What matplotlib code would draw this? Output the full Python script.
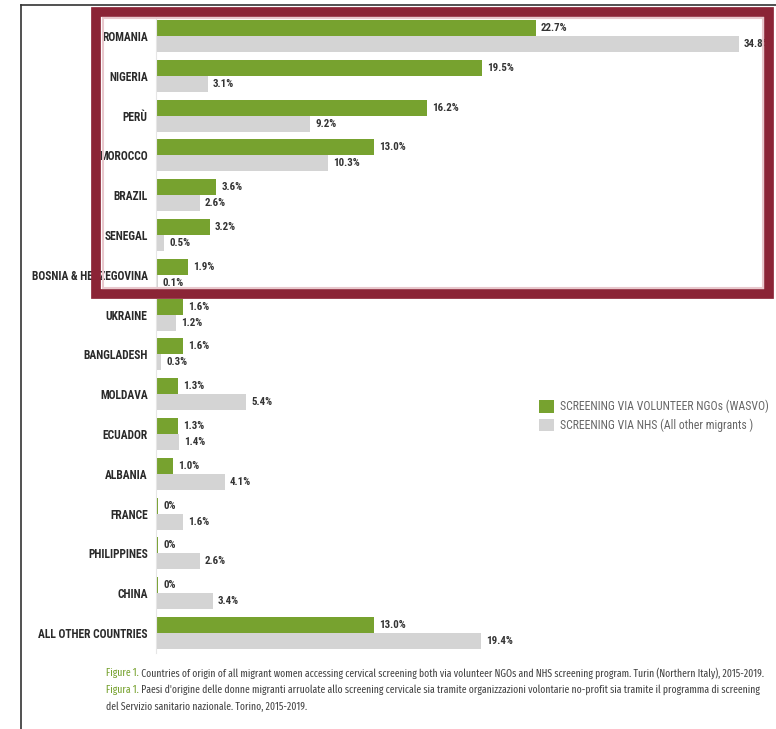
import matplotlib
matplotlib.use("Agg")
import matplotlib.pyplot as plt
from matplotlib.patches import Rectangle
from matplotlib.lines import Line2D
import numpy as np

plt.rcParams['font.family'] = ['Roboto Condensed', 'DejaVu Sans']

countries = ["ROMANIA", "NIGERIA", "PERÙ", "MOROCCO", "BRAZIL", "SENEGAL",
             "BOSNIA & HERZEGOVINA", "UKRAINE", "BANGLADESH", "MOLDAVA",
             "ECUADOR", "ALBANIA", "FRANCE", "PHILIPPINES", "CHINA",
             "ALL OTHER COUNTRIES"]
ngo = [22.7, 19.5, 16.2, 13.0, 3.6, 3.2, 1.9, 1.6, 1.6, 1.3, 1.3, 1.0, 0.0, 0.0, 0.0, 13.0]
nhs = [34.8, 3.1, 9.2, 10.3, 2.6, 0.5, 0.1, 1.2, 0.3, 5.4, 1.4, 4.1, 1.6, 2.6, 3.4, 19.4]
ngo_labels = ["22.7%", "19.5%", "16.2%", "13.0%", "3.6%", "3.2%", "1.9%", "1.6%", "1.6%",
              "1.3%", "1.3%", "1.0%", "0%", "0%", "0%", "13.0%"]
nhs_labels = ["34.8%", "3.1%", "9.2%", "10.3%", "2.6%", "0.5%", "0.1%", "1.2%", "0.3%",
              "5.4%", "1.4%", "4.1%", "1.6%", "2.6%", "3.4%", "19.4%"]
legend_labels = ["SCREENING VIA VOLUNTEER NGOs (WASVO)", "SCREENING VIA NHS (All other migrants )"]

GREEN = "#77a22f"
GREY = "#d4d4d4"
W, H = 776, 729

fig = plt.figure(figsize=(W / 100, H / 100), dpi=100)
fig.patch.set_facecolor("white")

n = len(countries)
top_c, bot_c = 36, 633
pitch = (bot_c - top_c) / (n - 1)
ax_top = top_c - pitch / 2
ax_bot = bot_c + pitch / 2
x0_px, px_per = 156, 16.74
xmax = 36.0
ax = fig.add_axes([x0_px / W, 1 - ax_bot / H, xmax * px_per / W, (ax_bot - ax_top) / H])

y = np.arange(n)
bh = 0.4
ax.barh(y - bh / 2, ngo, height=bh, color=GREEN, label=legend_labels[0])
ax.barh(y + bh / 2, nhs, height=bh, color=GREY, label=legend_labels[1])
# tiny sliver so the zero-valued NGO bars still show
for i, v in enumerate(ngo):
    if v == 0:
        ax.barh(y[i] - bh / 2, 0.12, height=bh, color=GREEN)

for i in range(n):
    ax.text(max(ngo[i], 0.12) + 0.3, y[i] - bh / 2, ngo_labels[i], va="center", ha="left",
            fontsize=7.8, fontweight="bold", color="#333333")
    ax.text(nhs[i] + 0.3, y[i] + bh / 2, nhs_labels[i], va="center", ha="left",
            fontsize=7.8, fontweight="bold", color="#333333")

ax.set_xlim(0, xmax)
ax.set_ylim(n - 0.5, -0.5)
ax.set_yticks(y)
ax.set_yticklabels(countries, fontsize=8.3, fontweight="bold", color="#2a2a2a")
ax.tick_params(axis="y", length=0, pad=6)
ax.set_xticks([])
for s in ["top", "right", "bottom"]:
    ax.spines[s].set_visible(False)
ax.spines["left"].set_color("#e6e6e6")
ax.spines["left"].set_linewidth(0.8)

ax.legend(loc="upper left", bbox_to_anchor=(533 / W, 1 - 394 / H), bbox_transform=fig.transFigure,
          frameon=False, fontsize=8.5, handlelength=1.25, handleheight=1.25,
          handletextpad=0.5, labelspacing=0.45, borderpad=0, labelcolor="#666666")

# page frame lines
fig.add_artist(Line2D([21 / W, 21 / W], [0, 1 - 5 / H], color="#333333", lw=1.2))
fig.add_artist(Line2D([21 / W, 1], [1 - 5 / H, 1 - 5 / H], color="#333333", lw=1.2))

# highlight box over the top rows
fig.add_artist(Rectangle((96 / W, 1 - 294 / H), (769 - 96) / W, (294 - 12) / H,
                         transform=fig.transFigure, fill=False, edgecolor="#8b2436", lw=7, zorder=5))
fig.add_artist(Rectangle((103 / W, 1 - 288 / H), (763 - 103) / W, (288 - 18) / H,
                         transform=fig.transFigure, fill=False, edgecolor="#e8c8cd", lw=1.5, zorder=5))

# caption, condensed face, sized so the first line ends near the right edge
cap_font = ['Fira Sans Extra Condensed', 'Roboto Condensed', 'DejaVu Sans']
cap_x = 106 / W
cap_size = 8.5
lines = [("Figure 1.", " Countries of origin of all migrant women accessing cervical screening both via volunteer NGOs and NHS screening program. Turin (Northern Italy), 2015-2019."),
         ("Figura 1.", " Paesi d'origine delle donne migranti arruolate allo screening cervicale sia tramite organizzazioni volontarie no-profit sia tramite il programma di screening"),
         ("", "del Servizio sanitario nazionale. Torino, 2015-2019.")]
cap_texts = []
for k, (head, body) in enumerate(lines):
    yy = 1 - (673 + 17 * k) / H
    if head:
        t1 = fig.text(cap_x, yy, head, color=GREEN, fontsize=cap_size, va="center", family=cap_font)
        t2 = ax.annotate(body, xy=(1, 0.5), xycoords=t1, va="center", ha="left", family=cap_font,
                         fontsize=cap_size, color="#444444", annotation_clip=False)
        cap_texts += [t1, t2]
    else:
        cap_texts.append(fig.text(cap_x, yy, body, color="#444444", fontsize=cap_size,
                                  va="center", family=cap_font))

renderer = fig.canvas.get_renderer()
right = max(cap_texts[1].get_window_extent(renderer).x1, cap_texts[3].get_window_extent(renderer).x1)
scale = (768 - 106) / (right - 106)
for t in cap_texts:
    t.set_fontsize(cap_size * scale)

fig.savefig("out.png", dpi=100)
